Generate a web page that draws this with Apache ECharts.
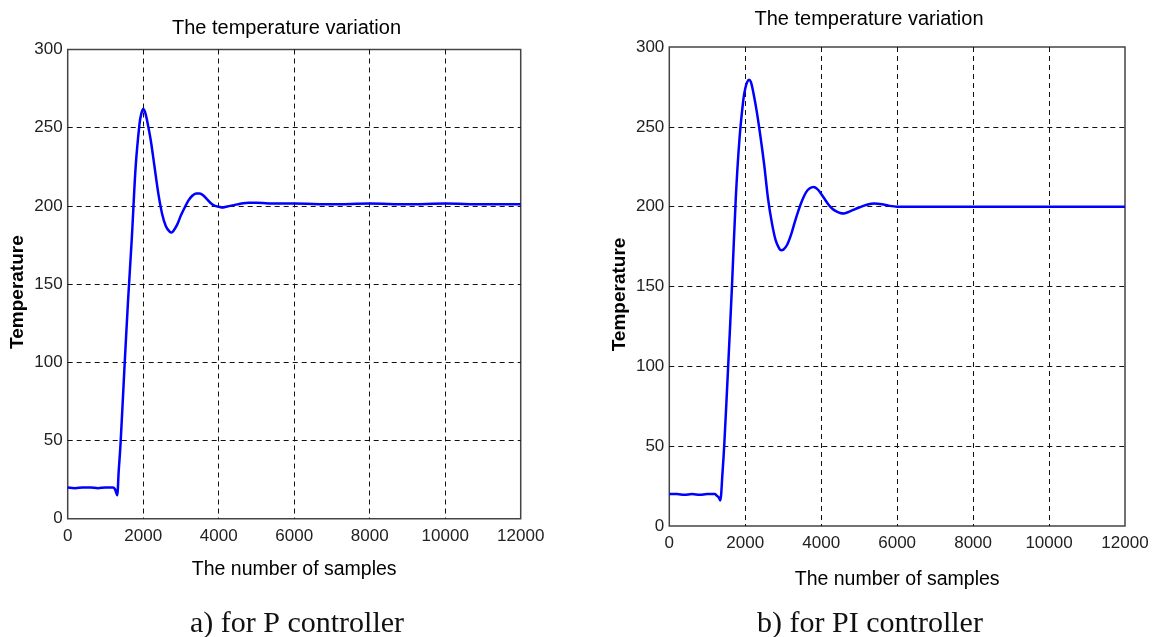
<!DOCTYPE html>
<html>
<head>
<meta charset="utf-8">
<script src="https://cdn.jsdelivr.net/npm/echarts@6/dist/echarts.min.js"></script>
<style>
html,body{margin:0;padding:0;background:#fff;}
#c{width:1153px;height:637px;}
</style>
</head>
<body>
<div id="c"></div>
<script>
// ---- Data ----
const xTicks = [0, 2000, 4000, 6000, 8000, 10000, 12000];
const yTicks = [0, 50, 100, 150, 200, 250, 300];

// a) P controller
const sampleP = [0, 200, 400, 600, 800, 1000, 1200, 1250, 1280, 1310, 1350, 1400, 1500, 1600, 1700, 1800, 1900, 1950, 2000, 2050, 2100, 2200, 2300, 2400, 2500, 2600, 2700, 2750, 2800, 2900, 3000, 3100, 3200, 3300, 3400, 3500, 3600, 3700, 3800, 3900, 4000, 4100, 4200, 4400, 4600, 4800, 5000, 5500, 6000, 7000, 8000, 9000, 10000, 11000, 12000];
const tempP   = [20, 19.5, 20, 20, 19.5, 20, 20, 19, 17, 15, 30, 48, 95, 140, 180, 225, 252, 259, 262, 260, 255, 242, 225, 208, 195, 187, 183.5, 183, 184, 188, 194, 199, 203.5, 206.5, 208, 208, 206.5, 204, 201.5, 200, 199.5, 199, 199.5, 200.5, 201.5, 202, 202, 201.5, 201.5, 201, 201.5, 201, 201.5, 201, 201];

// b) PI controller
const samplePI = [0, 200, 400, 600, 800, 1000, 1200, 1250, 1300, 1340, 1400, 1450, 1550, 1650, 1750, 1850, 1950, 2000, 2050, 2100, 2150, 2200, 2300, 2400, 2500, 2600, 2700, 2800, 2900, 2950, 3000, 3100, 3200, 3300, 3400, 3500, 3600, 3700, 3800, 3900, 4000, 4100, 4200, 4300, 4400, 4500, 4600, 4700, 4800, 5000, 5200, 5400, 5600, 5800, 6000, 7000, 8000, 9000, 10000, 11000, 12000];
const tempPI   = [20, 20, 19.5, 20, 19.5, 20, 20, 19, 18, 16, 33, 52, 100, 150, 205, 243, 267, 274, 278, 279.5, 278, 273, 260, 244, 226, 205, 190, 179, 173.5, 172.7, 173, 176, 182, 190, 197.5, 204, 209, 211.5, 212.3, 211, 208, 204.5, 201, 198.5, 197, 196, 195.7, 196.5, 197.5, 199.5, 201.2, 202, 201.5, 200.5, 200, 200, 200, 200, 200, 200, 200];

const chartTitle = 'The temperature variation';
const xName = 'The number of samples';
const yName = 'Temperature';
const captions = ['a) for P controller', 'b) for PI controller'];

const zip = (a, b) => a.map((v, i) => [v, b[i]]);

const chart = echarts.init(document.getElementById('c'), null, {renderer: 'canvas'});

const grids = [
  {left: 67.7, top: 49.5, width: 453, height: 469.2},
  {left: 669.3, top: 47, width: 455.7, height: 479}
];

function xAxis(i, gap) {
  return {
    gridIndex: i, type: 'value', min: xTicks[0], max: xTicks[xTicks.length - 1], interval: xTicks[1] - xTicks[0],
    name: xName, nameLocation: 'middle', nameGap: gap,
    nameTextStyle: {fontFamily: 'Liberation Sans', fontSize: 19.5, color: '#000'},
    axisLine: {show: false}, axisTick: {show: false},
    axisLabel: {fontFamily: 'Liberation Sans', fontSize: 17, color: '#222', margin: 9,
      formatter: v => String(v)},
    splitLine: {show: true, showMinLine: false, showMaxLine: false,
      lineStyle: {color: '#111', width: 1, type: [5, 4]}}
  };
}
function yAxis(i, gap) {
  return {
    gridIndex: i, type: 'value', min: yTicks[0], max: yTicks[yTicks.length - 1], interval: yTicks[1] - yTicks[0],
    name: yName, nameLocation: 'middle', nameGap: gap, nameRotate: 90,
    nameTextStyle: {fontFamily: 'Liberation Sans', fontSize: 19, fontWeight: 'bold', color: '#000',
      padding: [0, 16, 0, 0]},
    axisLine: {show: false}, axisTick: {show: false},
    axisLabel: {fontFamily: 'Liberation Sans', fontSize: 17, color: '#222', margin: 5,
      formatter: v => String(v)},
    splitLine: {show: true, showMinLine: false, showMaxLine: false,
      lineStyle: {color: '#111', width: 1, type: [5, 4]}}
  };
}

const option = {
  backgroundColor: '#fff',
  animation: false,
  title: [
    {text: chartTitle, left: 286.5, top: 18, textAlign: 'center', padding: 0,
     textStyle: {fontFamily: 'Liberation Sans', fontSize: 20, fontWeight: 'normal', color: '#000'}},
    {text: chartTitle, left: 869, top: 9, textAlign: 'center', padding: 0,
     textStyle: {fontFamily: 'Liberation Sans', fontSize: 20, fontWeight: 'normal', color: '#000'}},
    {text: captions[0], left: 297, top: 609, textAlign: 'center', padding: 0,
     textStyle: {fontFamily: 'Liberation Serif', fontSize: 30, fontWeight: 'normal', color: '#111'}},
    {text: captions[1], left: 870, top: 609, textAlign: 'center', padding: 0,
     textStyle: {fontFamily: 'Liberation Serif', fontSize: 30, fontWeight: 'normal', color: '#111'}}
  ],
  grid: grids.map(g => Object.assign({
    show: true, backgroundColor: '#fff', borderColor: '#444', borderWidth: 1.5,
    outerBoundsMode: 'none', containLabel: false
  }, g)),
  xAxis: [xAxis(0, 41), xAxis(1, 44)],
  yAxis: [yAxis(0, 40), yAxis(1, 40)],
  series: [
    {type: 'line', xAxisIndex: 0, yAxisIndex: 0, data: zip(sampleP, tempP),
     showSymbol: false, smooth: 0.3, lineStyle: {color: '#0000ff', width: 2.5}, z: 5},
    {type: 'line', xAxisIndex: 1, yAxisIndex: 1, data: zip(samplePI, tempPI),
     showSymbol: false, smooth: 0.3, lineStyle: {color: '#0000ff', width: 2.5}, z: 5}
  ]
};
chart.setOption(option);
</script>
</body>
</html>
